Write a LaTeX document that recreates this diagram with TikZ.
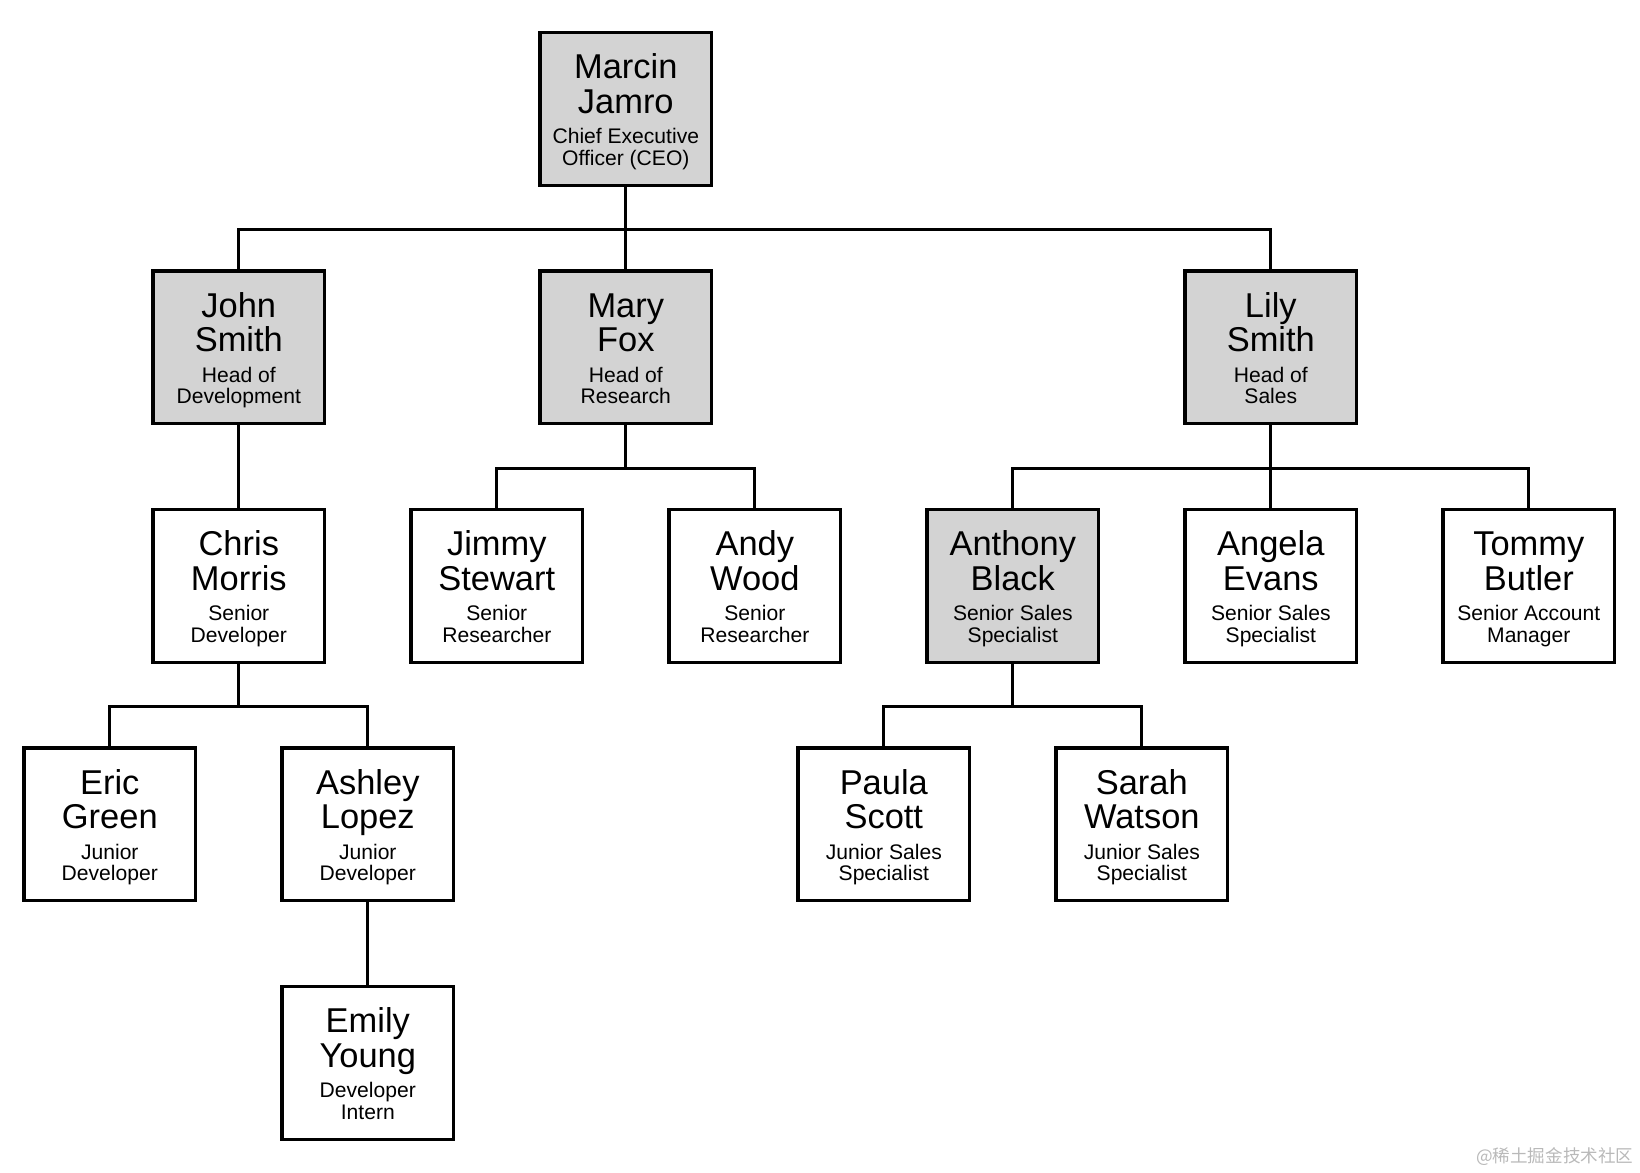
\documentclass[tikz,border=0pt]{standalone}
\usepackage{fontspec}
\setmainfont{Liberation Sans}
\newfontfamily\cjkfont{Noto Sans CJK SC}
\usepackage{xcolor}
\usetikzlibrary{positioning, calc}

\definecolor{headgray}{RGB}{211,211,211}

\newcommand{\namefont}{\fontsize{9.8}{9.8}\selectfont}
\newcommand{\rolefont}{\fontsize{6}{6}\selectfont}
\newcommand{\ntopstrut}{\rule[-2.5pt]{0pt}{11.5pt}}
\newcommand{\nstrut}{\rule[-4.2pt]{0pt}{11.5pt}}
\newcommand{\rstrut}{\rule[-1.5pt]{0pt}{6pt}}
\renewcommand{\arraystretch}{0}
% name on two lines, role on two lines
\newcommand{\who}[4]{\begin{tabular}{@{}c@{}}
    \ntopstrut\namefont #1\\ \nstrut\namefont #2\\
    \rstrut\rolefont #3\\ \rstrut\rolefont #4\end{tabular}}

\tikzset{
    person/.style={draw=black, line width=0.9pt, fill=white, minimum width=1.715cm,
        minimum height=1.527cm, inner sep=0pt},
    head/.style={person, fill=headgray},
    link/.style={line width=0.9pt, draw=black},
    fork/.style={to path={(\tikztostart.south) -- ++(0,-0.429) -| (\tikztotarget.north)}}
}

\begin{document}
\begin{tikzpicture}
    \useasboundingbox (0,0) rectangle (16.4,-11.72);
    % =========================================================
    % TOP LEVEL
    % =========================================================
    \node[head] (ceo) at (6.258,-1.088) {\who{Marcin}{Jamro}{Chief Executive}{Officer (CEO)}};

    % =========================================================
    % HEADS OF DEPARTMENTS
    % =========================================================
    \node[head] (john) at (2.388,-3.473) {\who{John}{Smith}{Head of}{Development}};
    \node[head] (mary) at (6.258,-3.473) {\who{Mary}{Fox}{Head of}{Research}};
    \node[head] (lily) at (12.708,-3.473) {\who{Lily}{Smith}{Head of}{Sales}};

    % =========================================================
    % SENIOR STAFF
    % =========================================================
    \node[person] (chris) at (2.388,-5.858) {\who{Chris}{Morris}{Senior}{Developer}};
    \node[person] (jimmy) at (4.968,-5.858) {\who{Jimmy}{Stewart}{Senior}{Researcher}};
    \node[person] (andy) at (7.548,-5.858) {\who{Andy}{Wood}{Senior}{Researcher}};
    \node[head] (anthony) at (10.128,-5.858) {\who{Anthony}{Black}{Senior Sales}{Specialist}};
    \node[person] (angela) at (12.708,-5.858) {\who{Angela}{Evans}{Senior Sales}{Specialist}};
    \node[person] (tommy) at (15.288,-5.858) {\who{Tommy}{Butler}{Senior Account}{Manager}};

    % =========================================================
    % JUNIOR STAFF AND INTERN
    % =========================================================
    \node[person] (eric) at (1.098,-8.243) {\who{Eric}{Green}{Junior}{Developer}};
    \node[person] (ashley) at (3.678,-8.243) {\who{Ashley}{Lopez}{Junior}{Developer}};
    \node[person] (paula) at (8.838,-8.243) {\who{Paula}{Scott}{Junior Sales}{Specialist}};
    \node[person] (sarah) at (11.418,-8.243) {\who{Sarah}{Watson}{Junior Sales}{Specialist}};
    \node[person] (emily) at (3.678,-10.628) {\who{Emily}{Young}{Developer}{Intern}};

    % =========================================================
    % REPORTING LINES
    % =========================================================
    \foreach \boss/\staff in {ceo/john, ceo/mary, ceo/lily, john/chris, mary/jimmy, mary/andy,
        lily/anthony, lily/angela, lily/tommy, chris/eric, chris/ashley, anthony/paula,
        anthony/sarah, ashley/emily}
        \draw[link] (\boss) to[fork] (\staff);

    \node[text=gray!55, font=\cjkfont\fontsize{5}{6}\selectfont, inner sep=0pt, anchor=east] (mark) at (16.34,-11.57) {@稀土掘金技术社区};
\end{tikzpicture}
\end{document}
